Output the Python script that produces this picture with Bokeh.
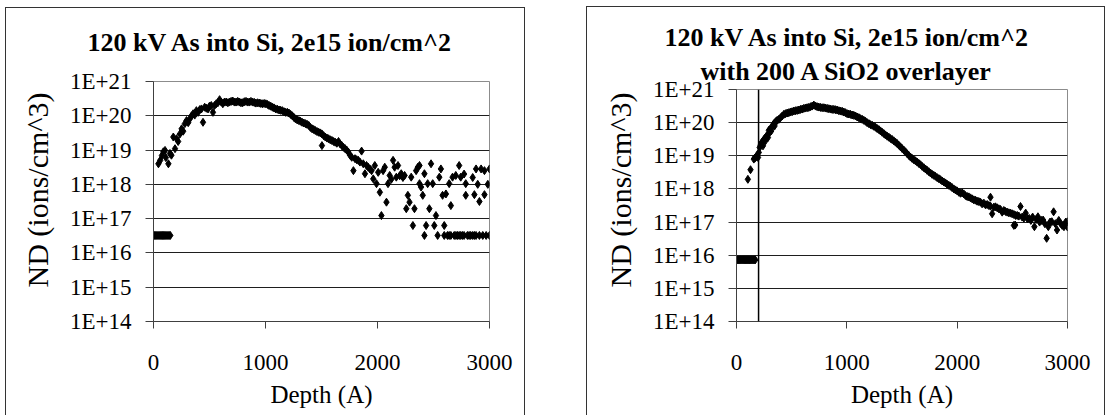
import math
from bokeh.plotting import figure
from bokeh.models import Range1d, FixedTicker, Span, Spacer, Title
from bokeh.layouts import row, column
from bokeh.embed import file_html
from bokeh.resources import INLINE

# ---------------- text / ticks ----------------
title_main = "120 kV As into Si, 2e15 ion/cm^2"
title_sub = "with 200 A SiO2 overlayer"
x_label = "Depth (A)"
y_label = "ND (ions/cm^3)"
x_ticks = [0, 1000, 2000, 3000]
y_ticks = [1e14, 1e15, 1e16, 1e17, 1e18, 1e19, 1e20, 1e21]
y_tick_labels = ["1E+14", "1E+15", "1E+16", "1E+17", "1E+18", "1E+19", "1E+20", "1E+21"]
oxide_thickness = 200  # Angstrom

# ---------------- data: bare Si (left panel) ----------------
bare_depth = [
    0, 10, 20, 30, 40, 50, 60, 70, 80, 90, 100, 110, 120, 130, 140, 150,
    44, 60, 75, 88, 103, 110, 133, 147, 160, 177,
    192, 206, 220, 236, 251, 265, 280, 295, 310, 324,
    340, 354, 368, 383, 398, 413, 428, 442, 457, 472,
    487, 500, 516, 531, 545, 560, 575, 590, 605, 619,
    634, 649, 664, 678, 693, 708, 722, 737, 752, 767,
    781, 796, 811, 826, 840, 855, 870, 885, 900, 914,
    929, 944, 958, 973, 988, 1003, 1018, 1032, 1047, 1062,
    1076, 1091, 1106, 1121, 1135, 1150, 1165, 1180, 1195, 1209,
    1224, 1239, 1254, 1268, 1283, 1298, 1312, 1327, 1342, 1357,
    1371, 1386, 1401, 1416, 1430, 1445, 1460, 1475, 1490, 1504,
    1504, 1519, 1534, 1549, 1563, 1578, 1593, 1608, 1622, 1637,
    1652, 1666, 1681, 1696, 1711, 1725, 1740, 1755, 1770, 1785,
    1799, 1814, 1829, 1843, 1858, 1873, 1888, 1902, 1917, 1932,
    1947, 1962, 1976, 1991, 2006, 2021, 2035, 2050, 2065, 2080,
    2094, 2109, 2124, 2139, 2153, 2168, 2183, 2198, 2212, 2227,
    2242, 2257, 2271, 2286, 2301, 2316, 2330, 2345, 2360, 2375,
    2375, 2389, 2404, 2419, 2419, 2434, 2448, 2463, 2478, 2493,
    2507, 2522, 2537, 2552, 2566, 2581, 2596, 2596, 2611, 2625,
    2640, 2640, 2655, 2655, 2670, 2685, 2699, 2700, 2714, 2729,
    2729, 2743, 2743, 2758, 2773, 2773, 2788, 2788, 2803, 2818,
    2832, 2850, 2850, 2865, 2865, 2880, 2880, 2895, 2910, 2910,
    2925, 2940, 2955, 2955, 2970, 2985, 3000, 3000,
]
bare_log_nd = [
    16.51, 16.51, 16.51, 16.51, 16.51, 16.51, 16.51, 16.51, 16.51, 16.51, 16.51, 16.51, 16.51, 16.51, 16.51, 16.51,
    18.60, 18.70, 18.84, 18.95, 18.99, 18.78, 18.60, 18.90, 18.85, 19.38,
    19.04, 19.33, 19.25, 19.47, 19.62, 19.55, 19.77, 19.86, 19.80, 19.91,
    20.00, 20.06, 20.02, 20.15, 20.10, 20.18, 20.20, 19.81, 20.25, 20.22,
    20.20, 20.28, 20.30, 20.10, 20.30, 20.35, 20.38, 20.47, 20.40, 20.35,
    20.40, 20.40, 20.38, 20.40, 20.42, 20.43, 20.40, 20.40, 20.42, 20.40,
    20.38, 20.38, 20.41, 20.42, 20.40, 20.40, 20.42, 20.40, 20.39, 20.37,
    20.38, 20.37, 20.36, 20.35, 20.36, 20.35, 20.33, 20.30, 20.28, 20.25,
    20.23, 20.20, 20.19, 20.17, 20.16, 20.15, 20.12, 20.10, 20.10, 20.08,
    20.04, 20.00, 19.95, 19.91, 19.88, 19.86, 19.84, 19.81, 19.79, 19.77,
    19.75, 19.72, 19.66, 19.62, 19.60, 19.57, 19.54, 19.52, 19.50, 19.47,
    19.13, 19.42, 19.38, 19.35, 19.33, 19.30, 19.28, 19.25, 19.23, 19.20,
    19.25, 19.18, 19.13, 19.08, 19.04, 19.00, 18.94, 18.85, 18.79, 18.40,
    18.75, 18.72, 18.70, 18.65, 18.97, 18.60, 18.31, 18.55, 18.50, 18.45,
    18.40, 18.16, 18.55, 18.02, 18.35, 17.77, 17.09, 18.40, 18.50, 17.48,
    18.02, 18.26, 18.15, 18.70, 18.50, 18.21, 18.55, 18.25, 18.31, 18.20,
    18.26, 17.29, 17.68, 17.48, 18.21, 16.80, 17.29, 18.40, 18.50, 18.55,
    18.02, 17.92, 17.68, 18.31, 16.51, 16.80, 18.02, 17.29, 18.60, 18.02,
    16.80, 17.09, 16.51, 18.21, 18.45, 17.68, 16.80, 16.51, 17.72, 16.51,
    18.02, 16.51, 17.38, 16.51, 18.21, 16.51, 18.26, 16.51, 16.51, 18.55,
    16.51, 18.21, 16.51, 16.51, 18.30, 16.51, 17.68, 18.02, 16.51, 16.51,
    16.51, 18.20, 16.51, 17.70, 16.51, 18.45, 16.51, 18.00, 17.50, 16.51,
    18.45, 16.51, 17.70, 18.40, 16.51, 18.00, 18.45, 16.51,
]

# ---------------- data: with 200 A SiO2 (right panel) ----------------
oxide_depth = [
    0, 10, 20, 30, 40, 50, 60, 70, 80, 90, 100, 110, 120, 130, 140, 150, 160, 170,
    103, 127, 157, 165, 172, 180, 187, 195, 202, 210,
    218, 225, 233, 240, 247, 254, 262, 270, 278, 285,
    293, 300, 308, 315, 323, 330, 338, 345, 353, 361,
    369, 384, 399, 414, 429, 444, 459, 474, 489, 504,
    520, 535, 550, 565, 580, 595, 610, 625, 640, 655,
    671, 686, 701, 716, 731, 746, 761, 776, 792, 807,
    822, 837, 852, 867, 882, 897, 912, 928, 943, 958,
    973, 988, 1003, 1018, 1033, 1048, 1063, 1079, 1094, 1109,
    1124, 1139, 1154, 1169, 1184, 1200, 1215, 1230, 1245, 1260,
    1275, 1290, 1305, 1320, 1335, 1350, 1366, 1381, 1396, 1411,
    1426, 1441, 1456, 1471, 1486, 1501, 1517, 1532, 1547, 1562,
    1577, 1592, 1607, 1622, 1637, 1652, 1668, 1683, 1698, 1713,
    1728, 1743, 1758, 1773, 1788, 1803, 1819, 1834, 1849, 1864,
    1879, 1894, 1909, 1924, 1939, 1954, 1970, 1985, 2000, 2015,
    2030, 2045, 2060, 2075, 2091, 2106, 2121, 2136, 2151, 2166,
    2181, 2196, 2211, 2226, 2242, 2257, 2272, 2287, 2302, 2302,
    2317, 2332, 2347, 2363, 2378, 2393, 2408, 2423, 2438, 2453,
    2468, 2483, 2498, 2514, 2514, 2526, 2529, 2544, 2559, 2574,
    2589, 2605, 2621, 2637, 2653, 2668, 2684, 2700, 2716, 2732,
    2747, 2763, 2779, 2795, 2811, 2826, 2842, 2858, 2874, 2890,
    2905, 2921, 2937, 2952, 2968, 2984, 3000, 3000,
]
oxide_log_nd = [
    15.86, 15.86, 15.86, 15.86, 15.86, 15.86, 15.86, 15.86, 15.86, 15.86, 15.86, 15.86, 15.86, 15.86, 15.86, 15.86, 15.86, 15.86,
    18.29, 18.58, 18.90, 18.93, 18.95, 18.98, 19.00, 18.95, 19.10, 19.25,
    19.32, 19.38, 19.42, 19.30, 19.48, 19.52, 19.45, 19.58, 19.62, 19.55,
    19.77, 19.70, 19.82, 19.75, 19.87, 19.92, 19.97, 19.90, 20.02, 20.05,
    20.07, 20.10, 20.15, 20.20, 20.25, 20.27, 20.29, 20.30, 20.32, 20.33,
    20.35, 20.36, 20.37, 20.38, 20.40, 20.41, 20.43, 20.44, 20.45, 20.46,
    20.48, 20.50, 20.53, 20.50, 20.48, 20.47, 20.46, 20.45, 20.45, 20.44,
    20.43, 20.42, 20.41, 20.40, 20.40, 20.39, 20.38, 20.36, 20.35, 20.34,
    20.32, 20.30, 20.27, 20.26, 20.25, 20.23, 20.22, 20.20, 20.17, 20.15,
    20.12, 20.10, 20.07, 20.04, 20.00, 19.97, 19.94, 19.92, 19.89, 19.86,
    19.82, 19.79, 19.75, 19.71, 19.67, 19.63, 19.59, 19.56, 19.52, 19.49,
    19.45, 19.41, 19.37, 19.32, 19.27, 19.22, 19.17, 19.12, 19.06, 19.01,
    18.96, 18.92, 18.88, 18.85, 18.81, 18.77, 18.73, 18.68, 18.64, 18.60,
    18.56, 18.52, 18.48, 18.44, 18.41, 18.38, 18.34, 18.31, 18.28, 18.24,
    18.21, 18.18, 18.14, 18.11, 18.08, 18.04, 18.00, 17.97, 17.94, 17.90,
    17.87, 17.88, 17.85, 17.80, 17.77, 17.76, 17.73, 17.70, 17.67, 17.66,
    17.63, 17.62, 17.60, 17.55, 17.57, 17.52, 17.53, 17.50, 17.48, 17.75,
    17.25, 17.45, 17.46, 17.43, 17.40, 17.38, 17.30, 17.35, 17.32, 17.30,
    17.28, 17.27, 17.25, 17.23, 16.90, 16.91, 17.20, 17.20, 17.18, 17.47,
    17.15, 17.12, 17.27, 17.10, 17.11, 17.05, 17.15, 16.86, 17.08, 17.16,
    17.00, 17.05, 17.06, 16.95, 16.51, 16.86, 17.00, 17.01, 17.31, 16.95,
    16.76, 17.05, 16.96, 16.90, 16.86, 17.00, 17.01, 16.85,
]

bare_nd = [10 ** v for v in bare_log_nd]
oxide_nd = [10 ** v for v in oxide_log_nd]

SERIF = "Liberation Serif"


def panel_style(top):
    # panel box: top line at `top` px, left and right lines, open at the bottom
    return {"box-shadow": (f"inset 0 {top}px 0 0 #ffffff, inset 0 {top + 1}px 0 0 #333333, "
                           "inset 1px 0 0 0 #333333, inset -1px 0 0 0 #333333")}


def make_panel(width, min_left, min_right, min_top, min_bottom, box_top, depth, nd):
    p = figure(width=width, height=415,
               x_range=Range1d(0, 3000), y_range=Range1d(1e14, 1e21),
               y_axis_type="log", output_backend="svg", toolbar_location=None,
               min_border_left=min_left, min_border_right=min_right,
               min_border_top=min_top, min_border_bottom=min_bottom,
               border_fill_color=None, background_fill_color="white",
               outline_line_color="#8c8c8c", outline_line_width=1,
               styles=panel_style(box_top))
    p.xaxis.ticker = FixedTicker(ticks=x_ticks)
    p.yaxis.ticker = FixedTicker(ticks=y_ticks)
    p.yaxis.major_label_overrides = dict(zip(y_ticks, y_tick_labels))
    p.xgrid.visible = False
    p.ygrid.ticker = FixedTicker(ticks=y_ticks[1:-1])
    p.ygrid.grid_line_color = "#1e1e1e"
    p.ygrid.grid_line_width = 1
    for ax in (p.xaxis, p.yaxis):
        ax.axis_line_color = "#404040"
        ax.axis_line_width = 1
        ax.major_tick_line_color = "#404040"
        ax.major_tick_in = 0
        ax.minor_tick_line_color = None
        ax.major_label_text_font = SERIF
        ax.major_label_text_font_size = "23px"
        ax.major_label_text_color = "black"
    p.yaxis.major_tick_out = 8
    p.yaxis.major_label_standoff = 14
    p.xaxis.major_tick_out = 7
    p.xaxis.major_label_standoff = 26
    p.xaxis.axis_label = x_label
    p.xaxis.axis_label_text_font = SERIF
    p.xaxis.axis_label_text_font_size = "25px"
    p.xaxis.axis_label_text_font_style = "normal"
    p.xaxis.axis_label_text_color = "black"
    p.xaxis.axis_label_standoff = 8
    p.scatter(depth, nd, marker="diamond", size=8, color="black")
    return p


def add_title(p, text, side, offset, standoff, size, bold, valign="bottom"):
    p.add_layout(Title(text=text, align="left", offset=offset, standoff=standoff,
                       vertical_align=valign, text_font=SERIF, text_font_size=size,
                       text_font_style="bold" if bold else "normal",
                       text_color="black"), side)


# Left panel: frame 150..489 x 81..321 (page px); panel box left edge at x=5, top line y=7
left = make_panel(520, 145, 36, 81, 94, 7, bare_depth, bare_nd)
add_title(left, title_main, "above", -66, 50, "26px", True)
add_title(left, y_label, "left", 34, 26, "30px", False)

# Right panel: frame 736..1067 x 89..321 (page px); panel box left edge at x=586, top line y=6
right = make_panel(519, 150, 38, 89, 94, 6, oxide_depth, oxide_nd)
right.add_layout(Span(location=oxide_thickness, dimension="height",
                      line_color="black", line_width=1.5))
add_title(right, title_sub, "above", -36, 7, "26px", True)
add_title(right, title_main, "above", -72, 0, "26px", True)
add_title(right, y_label, "left", 34, 26, "30px", False)

# each panel in its own column so the two plot frames are not aligned to each other
layout = row(Spacer(width=5), column(Spacer(height=0), left),
             Spacer(width=61), column(Spacer(height=0), right))

open("out.html", "w").write(file_html(layout, INLINE))
